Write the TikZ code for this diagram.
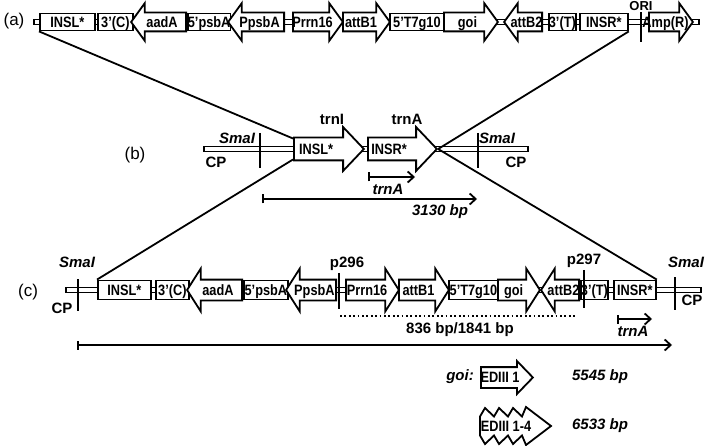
\documentclass[tikz,border=0pt]{standalone}
\usepackage{fontspec}
\setmainfont{Liberation Sans}
\newfontfamily\narrowfont[FakeStretch=0.85]{Liberation Sans}
\usetikzlibrary{shapes.arrows,arrows.meta}
\newcommand\lbl{\narrowfont\bfseries\fontsize{15}{17}\selectfont}
\newcommand\ann{\bfseries\fontsize{15}{17}\selectfont}
\newcommand\nte{\bfseries\itshape\fontsize{15}{17}\selectfont}

\begin{document}
\begin{tikzpicture}[
  x=1pt, y=-1pt,
  every node/.style={font=\ann},
  lw/.style={line width=1.8pt},
  feat/.style={draw, lw, fill=white, inner sep=0pt},
  gbox/.style={feat, rectangle, anchor=west, font=\lbl, text height=10.7pt, text depth=0pt},
  lab/.style={inner sep=0pt, font=\lbl, text height=10.7pt, text depth=0pt},
  rarrow/.style={feat, single arrow, anchor=tail, minimum width=0pt},
  larrow/.style={rarrow, shape border rotate=180},
  bar/.style={feat, rectangle, anchor=west, minimum height=5pt},
  boxa/.style={minimum height=17pt},
  arra/.style={inner ysep=8.5pt, single arrow head extend=9.5pt, single arrow tip angle=108},
  arrb/.style={inner ysep=10.5pt, single arrow head extend=10.5pt, single arrow tip angle=93},
  boxc/.style={minimum height=19pt},
  arrc/.style={inner ysep=9.5pt, single arrow head extend=11pt, single arrow tip angle=115},
  tag/.style={font=\fontsize{17}{19}\selectfont},
  note/.style={font=\nte},
  meas/.style={lw, {Bar[width=9pt]}-{Straight Barb[length=6pt, width=11pt]}},
  tick/.style={lw}
]
\useasboundingbox (0,0) rectangle (709,446);

% (a) vector
\node[tag] (taga) at (14,21) {(a)};
\node[bar, minimum width=665pt] (abar) at (33,22) {};
\node[gbox, boxa, minimum width=55pt] (aINSL) at (39,22) {INSL*};
\node[gbox, boxa, minimum width=35pt] (aC) at (97,22) {3’(C)};
\node[larrow, arra, minimum height=55pt, label={[lab]center:aadA}] (aaadA) at (187,22) {};
\node[gbox, boxa, minimum width=42pt] (apsbA) at (187,22) {5’psbA};
\node[larrow, arra, minimum height=56pt, label={[lab]center:PpsbA}] (aPpsbA) at (285,22) {};
\node[rarrow, arra, minimum height=50pt, label={[lab, xshift=-2pt]center:Prrn16}] (aPrrn) at (292,22) {};
\node[rarrow, arra, minimum height=47pt, label={[lab, xshift=-2pt]center:attB1}] (aattBa) at (342,22) {};
\node[gbox, boxa, minimum width=54pt] (aT7) at (389,22) {5’T7g10};
\node[rarrow, arra, minimum height=54pt, label={[lab]center:goi}] (agoi) at (443,22) {};
\node[larrow, arra, minimum height=38pt, label={[lab]center:attB2}] (aattBb) at (543,22) {};
\node[gbox, boxa, minimum width=25pt] (aT) at (548,22) {3’(T)};
\node[gbox, boxa, minimum width=48pt] (aINSR) at (579,22) {INSR*};
\node[rarrow, arra, minimum height=44pt, label={[lab, xshift=-2pt]center:Amp(R)}] (aAmp) at (648,22) {};
\node[font=\bfseries\fontsize{13}{15}\selectfont, inner sep=1pt] (ori) at (641,6.5) {ORI};
\draw[tick] (ori.south) -- ++(0,30);

% (b) chloroplast
\node[tag] (tagb) at (135,155) {(b)};
\node[bar, minimum width=324pt] (bbar) at (203,149) {};
\node[rarrow, arrb, minimum height=70pt] (bINSL) at (293,149) {};
\node[lab] (bINSLlab) at (316,149) {INSL*};
\node[rarrow, arrb, minimum height=69pt] (bINSR) at (367,149) {};
\node[lab] (bINSRlab) at (389,149) {INSR*};
\node (btrnI) at (332,119) {trnI};
\node (btrnA) at (407,119) {trnA};
\node[note] (bsmaL) at (237,138) {SmaI};
\node[note] (bsmaR) at (497,138) {SmaI};
\node (bcpL) at (216,162) {CP};
\node (bcpR) at (516,162) {CP};
\draw[tick] (260,133) -- (260,168);
\draw[tick] (478,133) -- (478,168);
\coordinate (btA1) at (368,177);
\coordinate (btA2) at (415,177);
\draw[meas] (btA1) -- (btA2);
\node[note] (btAlab) at (388,189) {trnA};
\coordinate (bm1) at (262,199);
\coordinate (bm2) at (477,199);
\draw[meas] (bm1) -- (bm2);
\node[note] (bmlab) at (440,212) {3130 bp};

% (c) transformed chloroplast
\node[tag] (tagc) at (28,292) {(c)};
\node[bar, minimum width=635pt] (cbar) at (65,290) {};
\node[gbox, boxc, minimum width=53pt] (cINSL) at (97,290) {INSL*};
\node[gbox, boxc, minimum width=33pt] (cC) at (155,290) {3’(C)};
\node[larrow, arrc, minimum height=55pt, label={[lab]center:aadA}] (caadA) at (243,290) {};
\node[gbox, boxc, minimum width=44pt] (cpsbA) at (243,290) {5’psbA};
\node[larrow, arrc, minimum height=50pt, label={[lab]center:PpsbA}] (cPpsbA) at (337,290) {};
\node[rarrow, arrc, minimum height=53pt, label={[lab, xshift=-2pt]center:Prrn16}] (cPrrn) at (345,290) {};
\node[rarrow, arrc, minimum height=50pt, label={[lab, xshift=-2pt]center:attB1}] (cattBa) at (398,290) {};
\node[gbox, boxc, minimum width=49pt] (cT7) at (448,290) {5’T7g10};
\node[rarrow, arrc, minimum height=42pt, label={[lab, xshift=-2pt]center:goi}] (cgoi) at (497,290) {};
\node[larrow, arrc, minimum height=38pt, label={[lab]center:attB2}] (cattBb) at (580,290) {};
\node[gbox, boxc, minimum width=27pt] (cT) at (580,290) {3’(T)};
\node[gbox, boxc, minimum width=42pt] (cINSR) at (613,290) {INSR*};
\node (cpa) at (347,264) {p296};
\draw[tick] (339,273) -- (339,309);
\node (cpb) at (584,261) {p297};
\draw[tick] (584,270) -- (584,308);
\node[note] (csmaL) at (77,262) {SmaI};
\node[note] (csmaR) at (686,262) {SmaI};
\node (ccpL) at (62,308) {CP};
\node (ccpR) at (692,300) {CP};
\draw[tick] (78,279) -- (78,311);
\draw[tick] (675,277) -- (675,310);
\coordinate (cd1) at (340,316);
\coordinate (cd2) at (577,316);
\draw[lw, dash pattern=on 1.8pt off 2.6pt] (cd1) -- (cd2);
\node (cdlab) at (460,330) {836 bp/1841 bp};
\coordinate (ctA1) at (617,319);
\coordinate (ctA2) at (652,319);
\draw[meas] (ctA1) -- (ctA2);
\node[note] (ctAlab) at (633,331) {trnA};
\coordinate (cl1) at (77,345);
\coordinate (cl2) at (672,345);
\draw[meas] (cl1) -- (cl2);

% crossing lines
\draw[lw] (aINSL.south west) -- ([yshift=10.5pt]bINSL.tail);
\draw[lw] (aINSR.south east) -- (bINSR.tip);
\draw[lw] ([yshift=-10.5pt]bINSL.tail) -- (cINSL.north west);
\draw[lw] (bINSR.tip) -- (cINSR.north east);

% goi variants
\node[note] (goilab) at (460,377) {goi:};
\node[rarrow, inner ysep=9.5pt, single arrow head extend=6pt, single arrow tip angle=92,
  minimum height=52pt] (ed1) at (480,377.5) {};
\node[lab] (ed1lab) at (500,377.5) {EDIII 1};
\node[note] (ed1bp) at (600,377) {5545 bp};
\draw[lw, fill=white] (480,416.5) -- (485,408) -- (494,416.5) -- (499,408) -- (508,416.5)
  -- (513,408) -- (522,416.5) -- (526,407) -- (551,426) -- (526,445) -- (522,435.5)
  -- (513,444) -- (508,435.5) -- (499,444) -- (494,435.5) -- (485,444) -- (480,435.5) -- cycle;
\node[lab] (ed4) at (506,426) {EDIII 1-4};
\node[note] (ed4bp) at (600,426) {6533 bp};
\end{tikzpicture}
\end{document}
